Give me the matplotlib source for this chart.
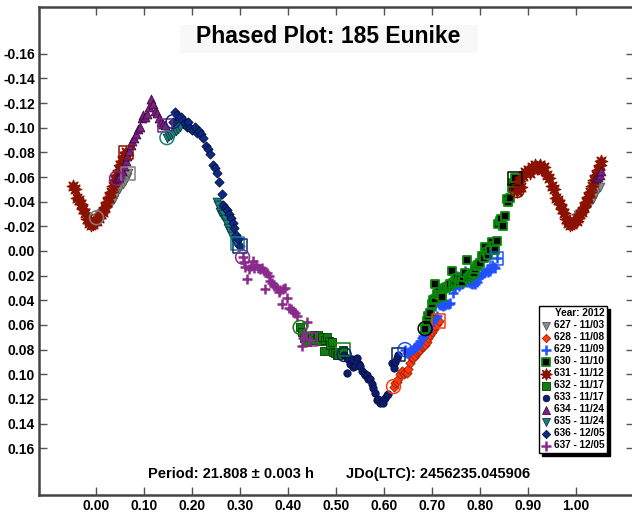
import matplotlib
matplotlib.use("Agg")
import matplotlib.pyplot as plt
from matplotlib.patches import Rectangle
import numpy as np

plt.rcParams['font.family'] = ['Liberation Sans', 'DejaVu Sans']
plt.rcParams['font.weight'] = 'bold'

# session number / date, phase and relative magnitude per session
labels = ["627 - 11/03", "628 - 11/08", "629 - 11/09", "630 - 11/10", "631 - 11/12",
          "632 - 11/17", "633 - 11/17", "634 - 11/24", "635 - 11/24", "636 - 12/05",
          "637 - 12/05"]

phase_627 = [0.000, 0.006, 0.012, 0.018, 0.024, 0.030, 0.036, 0.041, 0.046, 0.050,
             0.055, 0.059, 0.063, 0.066]
mag_627 = [-0.027, -0.029, -0.031, -0.034, -0.036, -0.039, -0.042, -0.046, -0.050, -0.052,
           -0.054, -0.057, -0.060, -0.063]

phase_628 = [0.620, 0.623, 0.627, 0.630, 0.634, 0.637, 0.641, 0.644, 0.648, 0.651,
             0.654, 0.658, 0.661, 0.665, 0.668, 0.672, 0.675, 0.679, 0.682, 0.686,
             0.689, 0.693, 0.697, 0.700, 0.704, 0.707, 0.711, 0.714]
mag_628 = [0.110, 0.107, 0.106, 0.104, 0.100, 0.097, 0.100, 0.098, 0.099, 0.096,
           0.091, 0.087, 0.087, 0.085, 0.083, 0.081, 0.080, 0.078, 0.077, 0.076,
           0.074, 0.071, 0.068, 0.066, 0.063, 0.061, 0.059, 0.057]

phase_629 = [0.644, 0.648, 0.651, 0.655, 0.658, 0.662, 0.665, 0.668, 0.672, 0.675,
             0.679, 0.682, 0.686, 0.689, 0.693, 0.696, 0.700, 0.703, 0.707, 0.707,
             0.710, 0.714, 0.717, 0.721, 0.724, 0.728, 0.731, 0.735, 0.738, 0.745,
             0.749, 0.752, 0.752, 0.756, 0.759, 0.762, 0.766, 0.769, 0.772, 0.776,
             0.780, 0.783, 0.787, 0.790, 0.794, 0.797, 0.801, 0.804, 0.808, 0.811,
             0.815, 0.818, 0.822, 0.825, 0.829, 0.832, 0.835]
mag_629 = [0.080, 0.083, 0.082, 0.081, 0.080, 0.079, 0.078, 0.077, 0.076, 0.073,
           0.071, 0.069, 0.066, 0.065, 0.064, 0.060, 0.058, 0.056, 0.054, 0.045,
           0.053, 0.043, 0.044, 0.044, 0.045, 0.044, 0.043, 0.043, 0.042, 0.034,
           0.030, 0.027, 0.020, 0.028, 0.027, 0.027, 0.026, 0.016, 0.025, 0.025,
           0.026, 0.027, 0.026, 0.027, 0.025, 0.022, 0.020, 0.019, 0.018, 0.017,
           0.015, 0.017, 0.016, 0.011, 0.013, 0.014, 0.006]

phase_630 = [0.686, 0.689, 0.693, 0.696, 0.700, 0.703, 0.707, 0.707, 0.710, 0.714,
             0.717, 0.721, 0.724, 0.728, 0.731, 0.735, 0.738, 0.742, 0.745, 0.749,
             0.752, 0.756, 0.759, 0.762, 0.766, 0.769, 0.773, 0.776, 0.780, 0.783,
             0.787, 0.790, 0.794, 0.797, 0.801, 0.804, 0.808, 0.811, 0.815, 0.818,
             0.822, 0.825, 0.829, 0.832, 0.835, 0.838, 0.842, 0.845, 0.849, 0.853,
             0.856, 0.860, 0.863, 0.867, 0.870, 0.874]
mag_630 = [0.063, 0.057, 0.053, 0.050, 0.043, 0.040, 0.039, 0.027, 0.035, 0.033,
           0.036, 0.037, 0.031, 0.030, 0.029, 0.028, 0.027, 0.016, 0.026, 0.024,
           0.022, 0.025, 0.023, 0.025, 0.021, 0.018, 0.007, 0.022, 0.020, 0.019,
           0.018, 0.015, 0.012, 0.011, 0.010, 0.004, 0.006, -0.003, 0.001, 0.003,
           -0.001, -0.007, -0.004, -0.001, -0.008, -0.022, -0.024, -0.026, -0.020, -0.028,
           -0.042, -0.040, -0.043, -0.051, -0.055, -0.059]

phase_631 = [0.878, 0.882, 0.886, 0.890, 0.895, 0.900, 0.905, 0.910, 0.915, 0.920,
             0.925, 0.930, 0.935, 0.940, 0.945, 0.950, 0.955, 0.960, 0.964, 0.968,
             0.972, 0.976, 0.980, 0.984, 0.988, 0.992, 0.996, 0.002, 0.006, 0.010,
             0.014, 0.018, 0.022, 0.026, 0.030, 0.034, 0.038, 0.042, 0.046, 0.050,
             0.054, 0.058, 0.062]
mag_631 = [-0.049, -0.057, -0.052, -0.061, -0.064, -0.066, -0.063, -0.068, -0.070, -0.067,
           -0.070, -0.066, -0.068, -0.062, -0.059, -0.053, -0.050, -0.043, -0.041, -0.038,
           -0.034, -0.031, -0.026, -0.023, -0.021, -0.022, -0.024, -0.024, -0.027, -0.030,
           -0.032, -0.036, -0.040, -0.044, -0.048, -0.053, -0.058, -0.062, -0.066, -0.070,
           -0.073, -0.077, -0.080]

phase_632 = [0.425, 0.430, 0.434, 0.439, 0.444, 0.449, 0.453, 0.456, 0.460, 0.463,
             0.467, 0.471, 0.474, 0.478, 0.481, 0.485, 0.487, 0.491, 0.494, 0.498,
             0.501, 0.505, 0.508, 0.515]
mag_632 = [0.062, 0.066, 0.071, 0.074, 0.070, 0.069, 0.068, 0.072, 0.070, 0.068,
           0.073, 0.070, 0.081, 0.072, 0.070, 0.073, 0.076, 0.074, 0.082, 0.083,
           0.084, 0.084, 0.082, 0.080]

phase_633 = [0.517, 0.522, 0.522, 0.526, 0.530, 0.533, 0.536, 0.540, 0.543, 0.547,
             0.550, 0.554, 0.558, 0.561, 0.564, 0.567, 0.571, 0.575, 0.578, 0.581,
             0.585, 0.588, 0.592, 0.595, 0.599, 0.602, 0.606, 0.609, 0.616, 0.620,
             0.623, 0.627, 0.630]
mag_633 = [0.084, 0.087, 0.099, 0.088, 0.092, 0.088, 0.094, 0.093, 0.087, 0.092,
           0.093, 0.097, 0.099, 0.101, 0.101, 0.104, 0.104, 0.108, 0.111, 0.115,
           0.121, 0.120, 0.123, 0.122, 0.123, 0.119, 0.117, 0.116, 0.091, 0.095,
           0.090, 0.087, 0.084]

phase_634 = [0.042, 0.046, 0.050, 0.054, 0.058, 0.061, 0.064, 0.067, 0.071, 0.074,
             0.078, 0.082, 0.086, 0.090, 0.094, 0.098, 0.102, 0.106, 0.110, 0.114,
             0.118, 0.122, 0.126, 0.130, 0.134, 0.139, 0.143]
mag_634 = [-0.059, -0.060, -0.062, -0.065, -0.069, -0.073, -0.077, -0.081, -0.086, -0.089,
           -0.092, -0.095, -0.099, -0.101, -0.108, -0.110, -0.109, -0.111, -0.117, -0.123,
           -0.119, -0.114, -0.112, -0.108, -0.105, -0.103, -0.102]

phase_635 = [0.147, 0.151, 0.155, 0.160, 0.165, 0.170, 0.175, 0.180, 0.185, 0.251,
             0.254, 0.258, 0.261, 0.265, 0.268, 0.272, 0.275, 0.279, 0.282, 0.286,
             0.290, 0.294]
mag_635 = [-0.092, -0.093, -0.094, -0.095, -0.097, -0.099, -0.101, -0.103, -0.104, -0.040,
           -0.037, -0.032, -0.029, -0.030, -0.026, -0.022, -0.019, -0.016, -0.012, -0.009,
           -0.007, -0.006]

phase_636 = [0.160, 0.164, 0.168, 0.172, 0.176, 0.180, 0.184, 0.188, 0.192, 0.196,
             0.200, 0.205, 0.209, 0.213, 0.218, 0.223, 0.228, 0.232, 0.237, 0.244,
             0.247, 0.251, 0.256, 0.261, 0.265, 0.268, 0.272, 0.277, 0.280, 0.284,
             0.288, 0.292, 0.296, 0.300]
mag_636 = [-0.105, -0.113, -0.110, -0.108, -0.109, -0.106, -0.104, -0.101, -0.105, -0.100,
           -0.098, -0.101, -0.096, -0.097, -0.095, -0.092, -0.085, -0.083, -0.079, -0.070,
           -0.067, -0.063, -0.056, -0.046, -0.037, -0.035, -0.033, -0.030, -0.027, -0.023,
           -0.019, -0.013, -0.010, -0.004]

phase_637 = [0.305, 0.308, 0.311, 0.314, 0.318, 0.322, 0.326, 0.329, 0.333, 0.338,
             0.342, 0.346, 0.350, 0.352, 0.356, 0.360, 0.363, 0.367, 0.371, 0.376,
             0.380, 0.384, 0.387, 0.390, 0.394, 0.398, 0.402, 0.406, 0.410, 0.414,
             0.418, 0.428, 0.432, 0.436, 0.439, 0.446]
mag_637 = [0.005, 0.009, 0.013, 0.023, 0.015, 0.012, 0.008, 0.014, 0.011, 0.014,
           0.015, 0.014, 0.016, 0.031, 0.018, 0.020, 0.024, 0.026, 0.028, 0.030,
           0.033, 0.032, 0.043, 0.031, 0.030, 0.038, 0.046, 0.047, 0.049, 0.050,
           0.053, 0.077, 0.071, 0.066, 0.058, 0.072]

phases = [phase_627, phase_628, phase_629, phase_630, phase_631, phase_632,
          phase_633, phase_634, phase_635, phase_636, phase_637]
mags = [mag_627, mag_628, mag_629, mag_630, mag_631, mag_632,
        mag_633, mag_634, mag_635, mag_636, mag_637]

period_text = "Period: 21.808 \u00b1 0.003 h"
epoch_text = "JDo(LTC): 2456235.045906"

# marker style per session: (marker, face, edge, size, linewidth, mark colour)
styles = [
    ('v', '#8a8a8a', '#555555', 40, 0.6, '#808080'),
    ('D', '#ff3a10', '#a02000', 22, 0.6, '#ff3a10'),
    ('+', '#2050ff', '#2050ff', 58, 1.8, '#2050ff'),
    ('s', '#000000', '#0b8a0b', 36, 1.3, '#000000'),
    ((8, 1, 0), '#8b1200', '#8b1200', 85, 0.8, '#8b1200'),
    ('s', '#0e7f0e', '#063806', 36, 0.6, '#0e7f0e'),
    ('o', '#0c1d6e', '#050f40', 28, 0.6, '#0c1d6e'),
    ('^', '#7e2081', '#3a0a3a', 40, 0.6, '#7e2081'),
    ('v', '#1b7f7f', '#0a3a3a', 40, 0.6, '#1b7f7f'),
    ('D', '#0c2a82', '#051040', 22, 0.6, '#0c2a82'),
    ('+', '#8a2a8c', '#8a2a8c', 58, 1.8, '#8a2a8c'),
]

W, H = 632, 512
fig = plt.figure(figsize=(W / 100, H / 100), dpi=100)
ax = fig.add_axes([39 / W, 17 / H, 595 / W, 488 / H])

handles = []
for ph, mg, st in zip(phases, mags, styles):
    ph = np.asarray(ph)
    mg = np.asarray(mg)
    marker, face, edge, size, lw, mark = st
    # repeat the ends of the cycle so the curve runs from -0.05 to 1.05
    xs = np.concatenate([ph, ph[ph > 0.945] - 1.0, ph[ph < 0.055] + 1.0])
    ys = np.concatenate([mg, mg[ph > 0.945], mg[ph < 0.055]])
    if marker == '+':
        h = ax.scatter(xs, ys, s=size, marker=marker, c=face, linewidths=lw, zorder=3)
    else:
        h = ax.scatter(xs, ys, s=size, marker=marker, facecolors=face,
                       edgecolors=edge, linewidths=lw, zorder=3)
    handles.append(h)
    # open circle on the first point of a session, open square on the last
    ax.scatter(ph[0], mg[0], s=100, marker='o', facecolors='none',
               edgecolors=mark, linewidths=1.1, zorder=4)
    ax.scatter(ph[-1], mg[-1], s=95, marker='s', facecolors='none',
               edgecolors=mark, linewidths=1.1, zorder=4)

ax.set_xlim(-0.12, 1.122)
ax.set_ylim(0.198, -0.198)
ax.set_xticks(np.arange(0, 1.01, 0.1))
ax.set_yticks(np.arange(-0.16, 0.161, 0.02))
ax.xaxis.set_major_formatter(matplotlib.ticker.FormatStrFormatter('%.2f'))
ax.yaxis.set_major_formatter(matplotlib.ticker.FuncFormatter(
    lambda v, p: "%.2f" % (0.0 if abs(v) < 1e-9 else v)))
ax.tick_params(direction='in', length=6, width=1, color='#555555',
               top=True, right=True, labelsize=10, pad=3)
for lab in ax.get_xticklabels() + ax.get_yticklabels():
    lab.set_fontweight('bold')
for sp in ax.spines.values():
    sp.set_linewidth(1.8)
    sp.set_color('#444444')

leg = ax.legend(handles, labels, title="Year: 2012", loc='upper right',
                bbox_to_anchor=(607 / W, 1 - 306 / H), bbox_transform=fig.transFigure,
                borderaxespad=0, frameon=True, fancybox=False,
                shadow={'facecolor': 'black', 'edgecolor': 'black', 'alpha': 1.0},
                prop={'size': 7.2, 'weight': 'bold'},
                title_fontproperties={'size': 7.2, 'weight': 'bold'},
                alignment='right', handlelength=0.9, handletextpad=0.3,
                labelspacing=0.2, borderpad=0.25, markerscale=0.9)
leg.get_frame().set_edgecolor('black')
leg.get_frame().set_linewidth(1.0)

# light panel behind the title
fig.patches.append(Rectangle((180 / W, 1 - 53 / H), 298 / W, 28 / H,
                             transform=fig.transFigure, facecolor='#f8f8f8',
                             edgecolor='none', zorder=5))
fig.text(328 / W, 1 - 43 / H, "Phased Plot: 185 Eunike", ha='center', va='baseline',
         fontsize=16.5, fontweight='bold', zorder=6)
fig.text(148 / W, 1 - 478 / H, period_text, ha='left', va='baseline',
         fontsize=10.5, fontweight='bold')
fig.text(346 / W, 1 - 478 / H, epoch_text, ha='left', va='baseline',
         fontsize=10.5, fontweight='bold')

fig.savefig("out.png", dpi=100)
plt.close(fig)
